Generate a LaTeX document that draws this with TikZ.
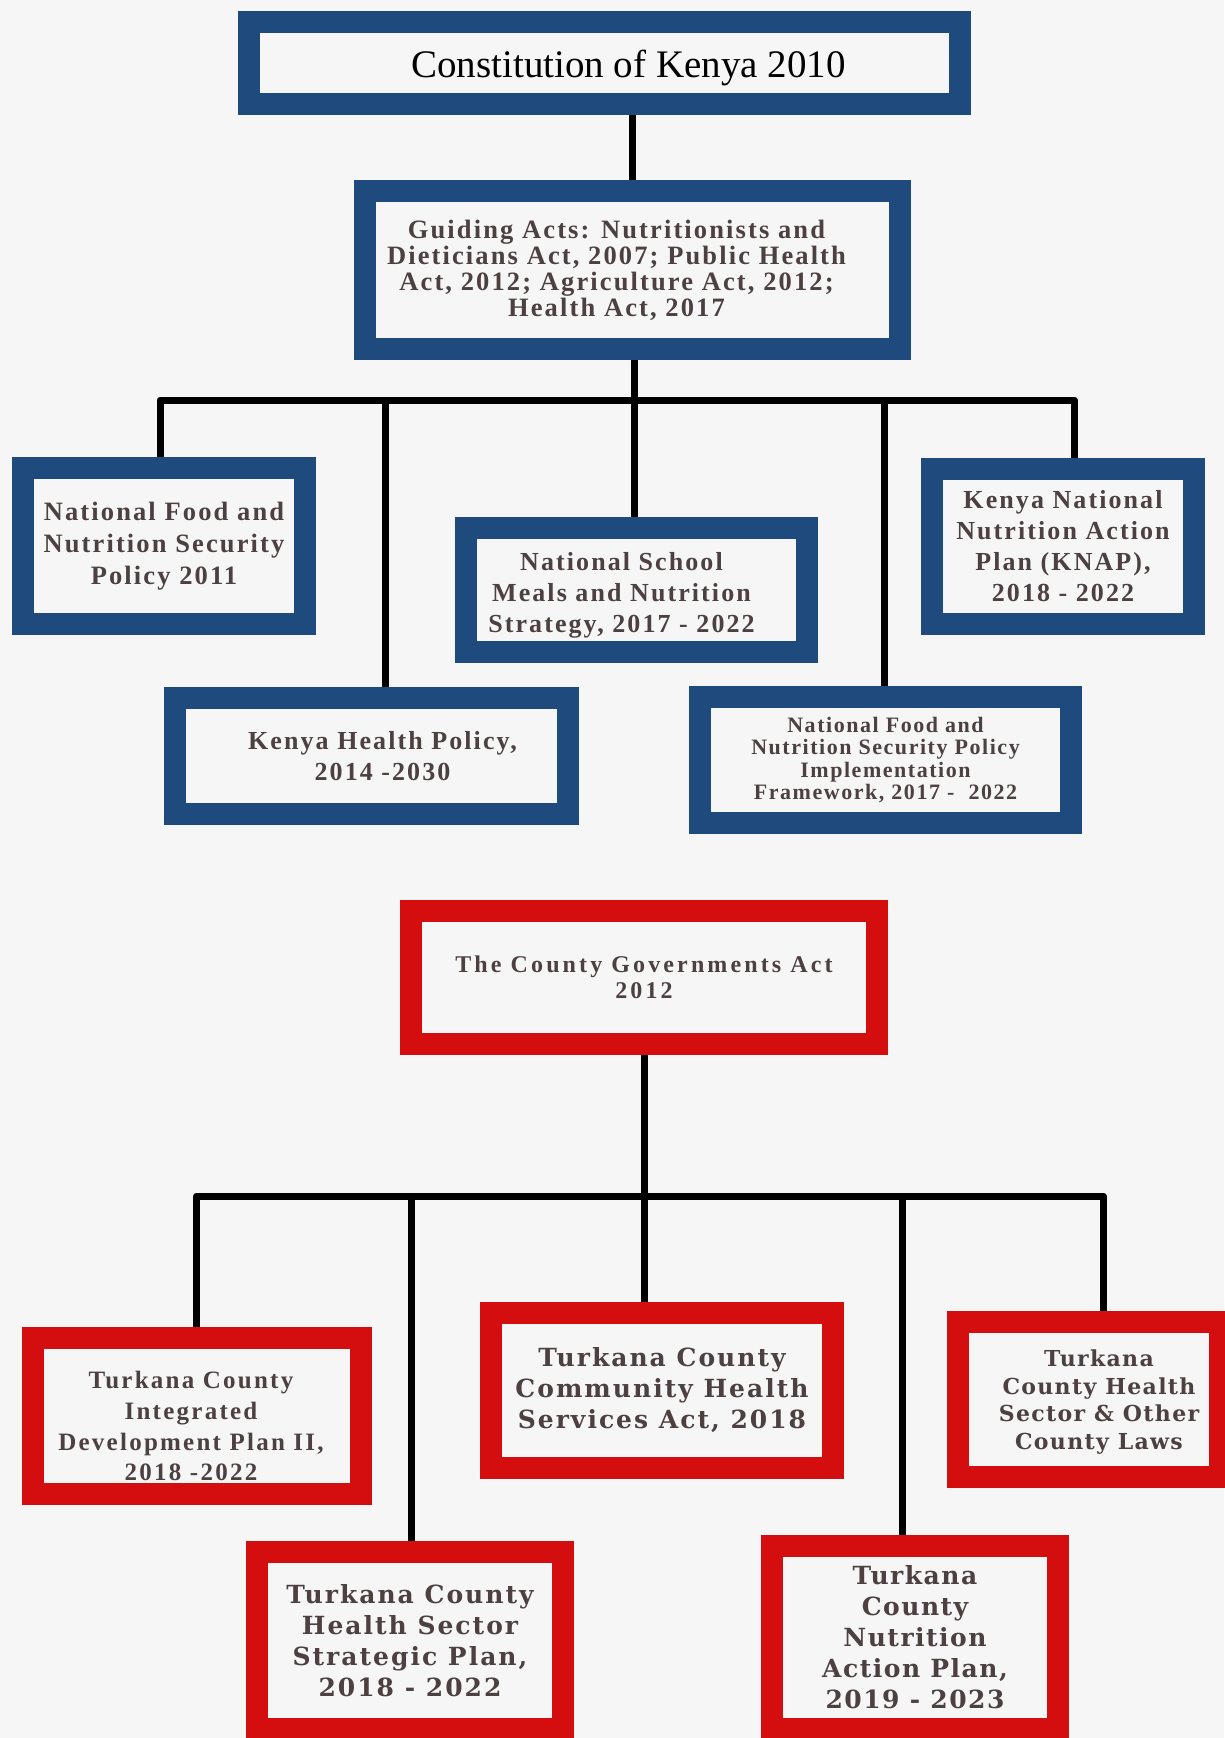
\documentclass[tikz,border=0pt]{standalone}
\usepackage{fontspec}
\setmainfont{Liberation Serif}
\newfontfamily\actfont[LetterSpace=8]{Liberation Serif}
\newfontfamily\lawfont[LetterSpace=6]{DejaVu Serif}
\definecolor{govblue}{RGB}{31,74,126}
\definecolor{countyred}{RGB}{212,14,14}
\definecolor{pagegray}{RGB}{246,246,246}
\definecolor{inkbrown}{RGB}{77,64,64}
\tikzset{
 plainbox/.style={draw, line width=22pt, outer sep=11pt, fill=pagegray, inner sep=0pt, align=center, text=inkbrown},
 govbox/.style={plainbox, draw=govblue},
 countybox/.style={plainbox, draw=countyred},
 link/.style={line width=7pt, line join=round},
}
\begin{document}
\begin{tikzpicture}[x=1pt,y=-1pt]
 \fill[pagegray] (0,0) rectangle (1224,1738);
 \useasboundingbox (0,0) rectangle (1224,1738);
 % national level
 \node[govbox, minimum width=711pt, minimum height=82pt, text=black, text height=38pt, font=\fontsize{39}{44}\selectfont] (constitution) at (604.5,63) {\hspace*{48pt}Constitution of Kenya 2010};
 \node[govbox, minimum width=535pt, minimum height=158pt, font=\actfont\bfseries\fontsize{26.5}{26}\selectfont] (guide) at (632.5,270) {\hspace*{-32pt}Guiding Acts: Nutritionists and\\\hspace*{-32pt}Dieticians Act, 2007; Public Health\\\hspace*{-32pt}Act, 2012; Agriculture Act, 2012;\\\hspace*{-32pt}Health Act, 2017};
 \node[govbox, minimum width=282pt, minimum height=156pt, font=\actfont\bfseries\fontsize{26.5}{32}\selectfont] (nfnsp) at (164,546) {National Food and\\Nutrition Security\\Policy 2011};
 \node[govbox, minimum width=393pt, minimum height=116pt, font=\actfont\bfseries\fontsize{26}{30.5}\selectfont] (khp) at (371.5,756) {\hspace*{22pt}Kenya Health Policy,\\\hspace*{22pt}2014 -2030};
 \node[govbox, minimum width=341pt, minimum height=124pt, font=\actfont\bfseries\fontsize{26}{31}\selectfont] (nsm) at (636.5,590) {\rule{0pt}{28pt}\hspace*{-30pt}National School\\\hspace*{-30pt}Meals and Nutrition\\\hspace*{-30pt}Strategy, 2017 - 2022};
 \node[govbox, minimum width=371pt, minimum height=126pt, font=\actfont\bfseries\addfontfeatures{LetterSpace=7}\fontsize{22}{22.5}\selectfont] (fw) at (885.5,760) {National Food and\\Nutrition Security Policy\\Implementation\\Framework, 2017 -~ 2022};
 \node[govbox, minimum width=262pt, minimum height=155pt, font=\actfont\bfseries\fontsize{26}{31}\selectfont] (knap) at (1063,546.5) {Kenya National\\Nutrition Action\\Plan (KNAP),\\2018 - 2022};
 \coordinate (ub1) at (160,400);
 \coordinate (ub2) at (385,400);
 \coordinate (ub3) at (634.5,400);
 \coordinate (ub4) at (884.5,400);
 \coordinate (ub5) at (1074.5,400);
 \draw[link] (guide.north) -- (guide.north |- constitution.south);
 \draw[link] (ub3 |- guide.south) -- (ub3) -- (ub3 |- nsm.north);
 \draw[link] (ub1 |- nfnsp.north) -- (ub1) -- (ub5) -- (ub5 |- knap.north);
 \draw[link] (ub2) -- (ub2 |- khp.north);
 \draw[link] (ub4) -- (ub4 |- fw.north);
 % county level
 \node[countybox, minimum width=466pt, minimum height=133pt, font=\actfont\bfseries\addfontfeatures{LetterSpace=13}\fontsize{24}{25.5}\selectfont] (cga) at (644,977.5) {The County Governments Act\\2012};
 \node[countybox, minimum width=328pt, minimum height=156pt, font=\actfont\bfseries\addfontfeatures{LetterSpace=9}\fontsize{25}{30.7}\selectfont] (cidp) at (197,1416) {\rule{0pt}{38pt}\hspace*{-12pt}Turkana County\\\hspace*{-12pt}Integrated\\\hspace*{-12pt}Development Plan II,\\\hspace*{-12pt}2018 -2022};
 \node[countybox, minimum width=306pt, minimum height=177pt, font=\lawfont\bfseries\addfontfeatures{LetterSpace=8}\fontsize{25}{31}\selectfont] (hssp) at (410,1640.5) {Turkana County\\Health Sector\\Strategic Plan,\\2018 - 2022};
 \node[countybox, minimum width=342pt, minimum height=155pt, font=\lawfont\bfseries\addfontfeatures{LetterSpace=8}\fontsize{25}{31}\selectfont] (chsa) at (662,1390.5) {Turkana County\\Community Health\\Services Act, 2018};
 \node[countybox, minimum width=286pt, minimum height=183pt, font=\lawfont\bfseries\addfontfeatures{LetterSpace=6}\fontsize{25}{31}\selectfont] (nap) at (915,1637.5) {Turkana\\County\\Nutrition\\Action Plan,\\2019 - 2023};
 \node[countybox, minimum width=262pt, minimum height=155pt, font=\lawfont\bfseries\addfontfeatures{LetterSpace=6}\fontsize{22}{27.7}\selectfont] (laws) at (1089,1399.5) {\rule{0pt}{22pt}\hspace*{20pt}Turkana\\\hspace*{20pt}County Health\\\hspace*{20pt}Sector \& Other\\\hspace*{20pt}County Laws};
 \coordinate (lb1) at (196.5,1196);
 \coordinate (lb2) at (411.5,1196);
 \coordinate (lb3) at (644.5,1196);
 \coordinate (lb4) at (902.5,1196);
 \coordinate (lb5) at (1103.5,1196);
 \draw[link] (lb3 |- cga.south) -- (lb3) -- (lb3 |- chsa.north);
 \draw[link] (lb1 |- cidp.north) -- (lb1) -- (lb5) -- (lb5 |- laws.north);
 \draw[link] (lb2) -- (lb2 |- hssp.north);
 \draw[link] (lb4) -- (lb4 |- nap.north);
\end{tikzpicture}
\end{document}
